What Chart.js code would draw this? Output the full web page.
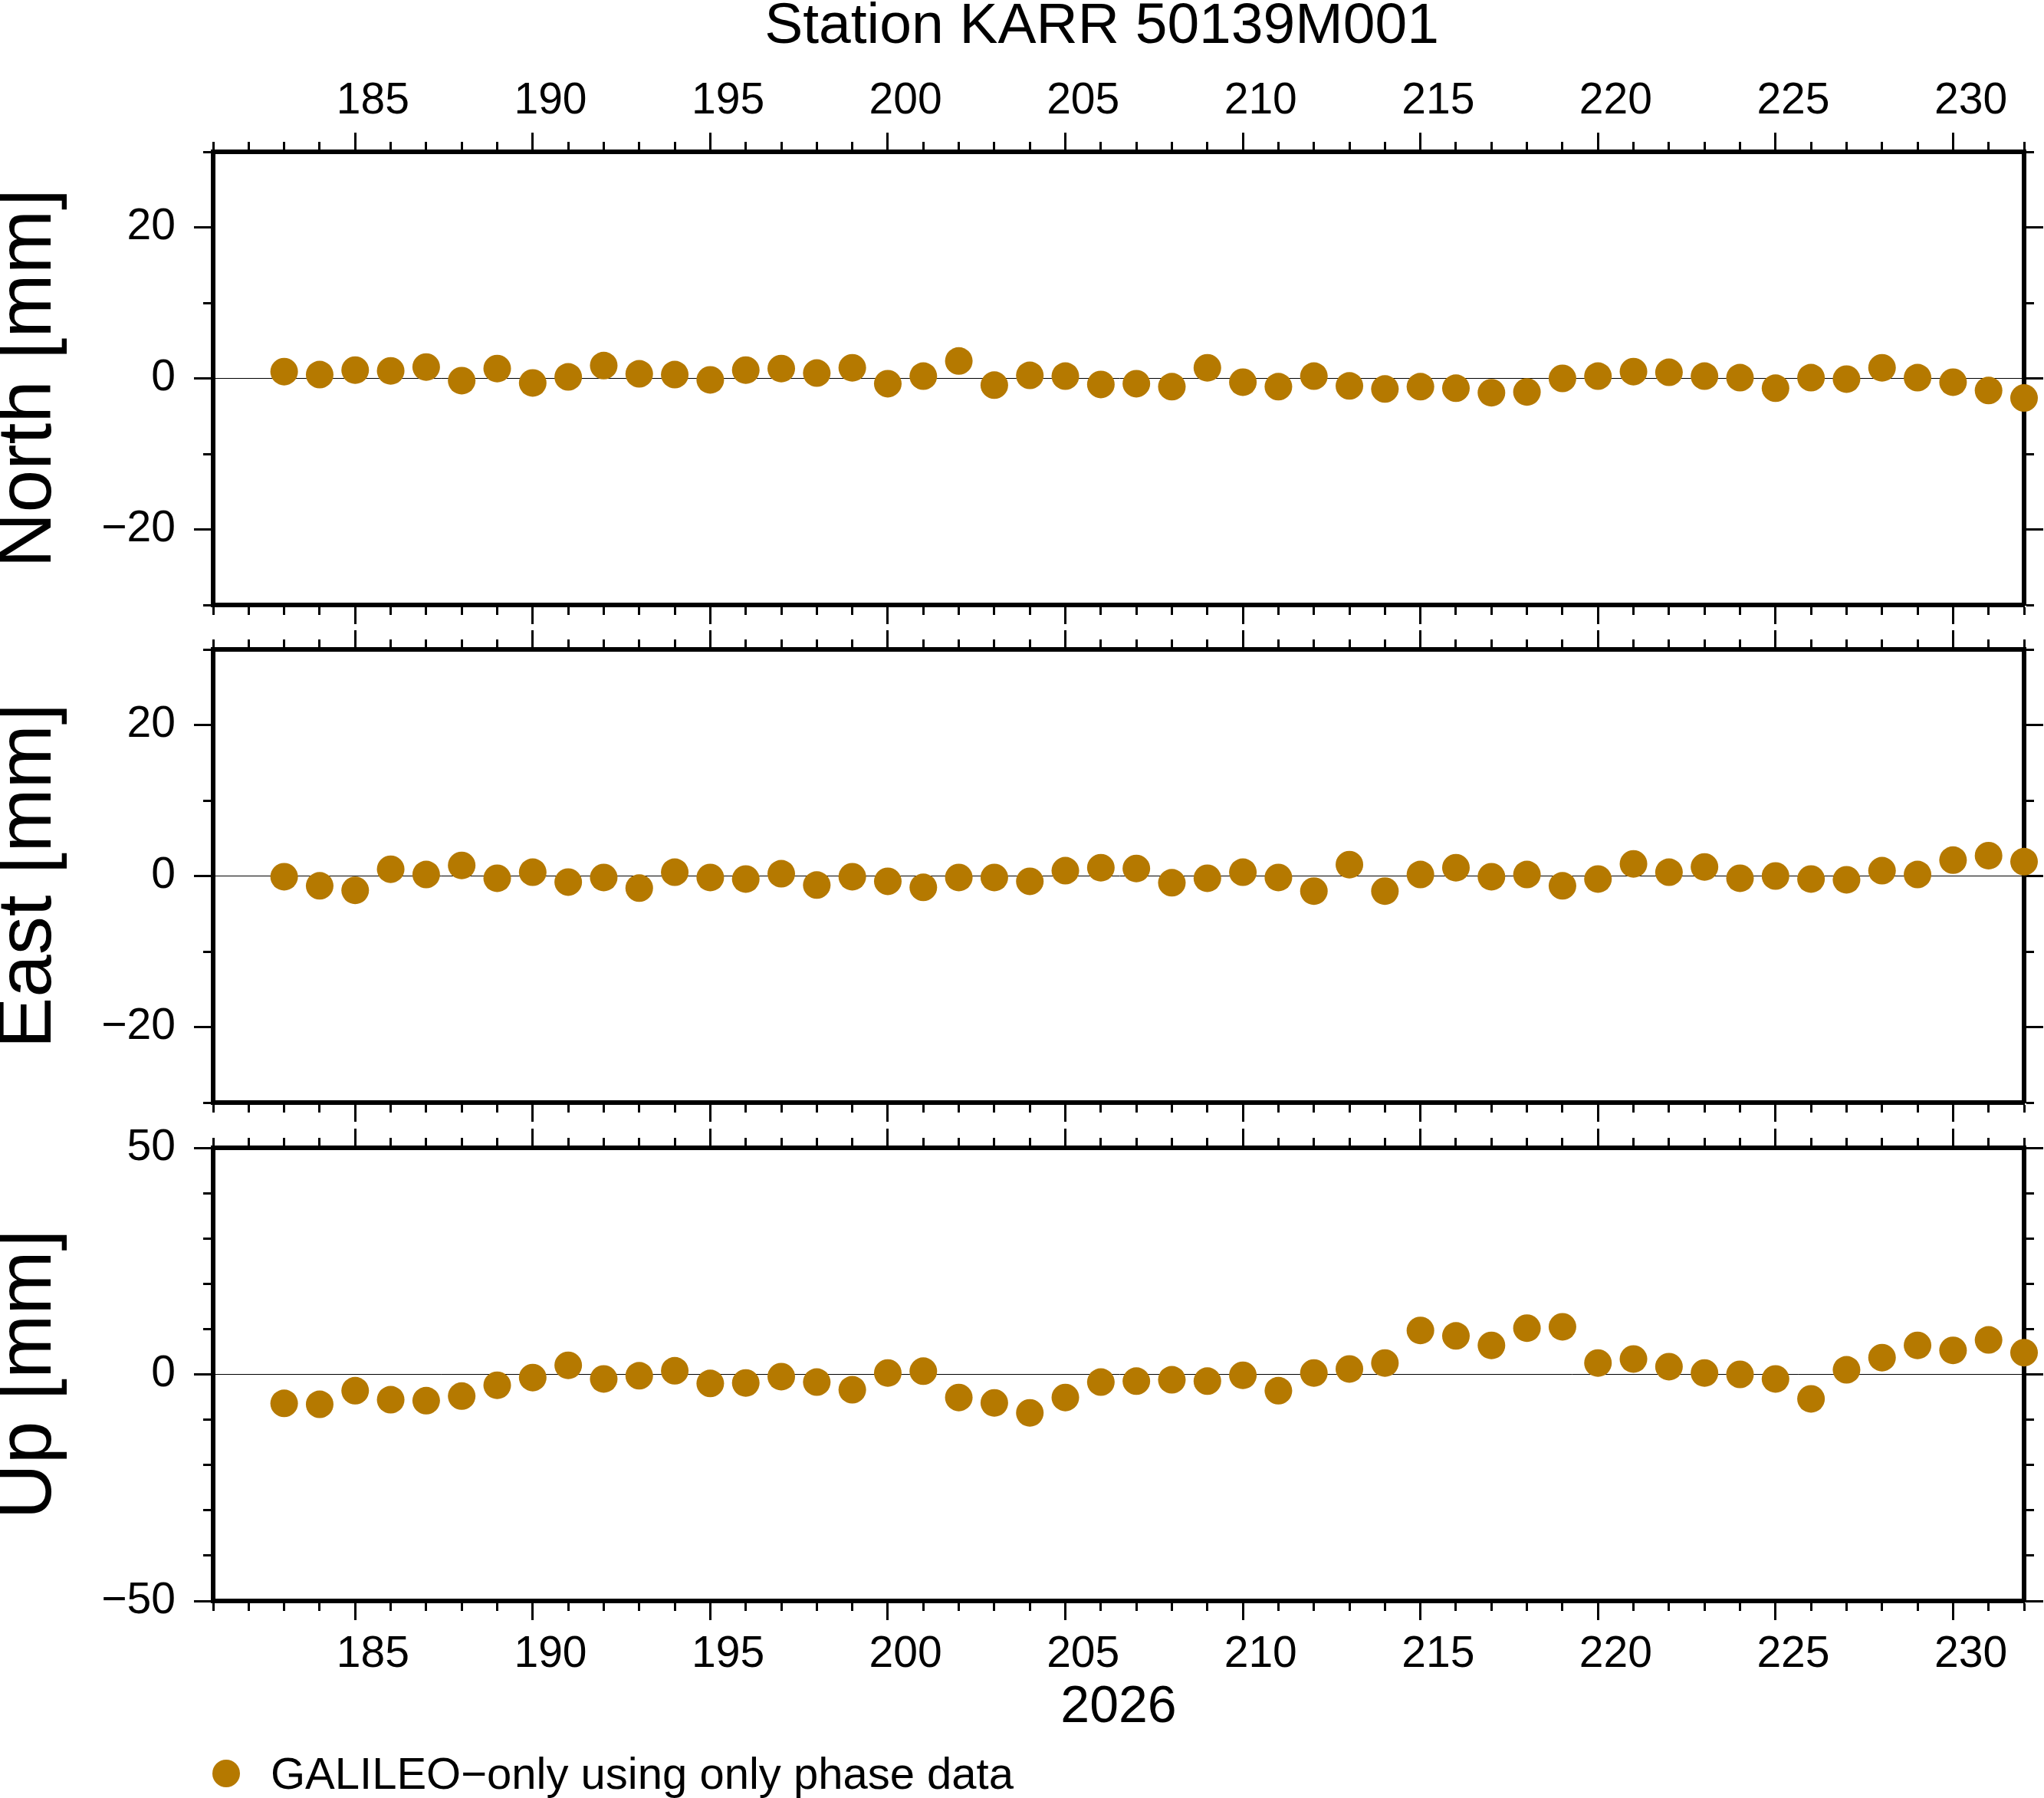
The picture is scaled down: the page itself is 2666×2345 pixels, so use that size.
<!DOCTYPE html>
<html>
<head>
<meta charset="utf-8">
<title>Station KARR 50139M001</title>
<script src="https://cdn.jsdelivr.net/npm/chart.js@4/dist/chart.umd.min.js"></script>
<style>
  html, body { margin: 0; padding: 0; background: #fff; }
  body { position: relative; width: 2666px; height: 2345px; overflow: hidden; font-family: 'Liberation Sans', Arial, sans-serif; color: #000; }
  canvas { position: absolute; left: 0; }
  #title { position: absolute; left: 1437px; top: 30px; transform: translate(-50%, -50%); font-size: 75px; line-height: 1; white-space: nowrap; }
  #legend { position: absolute; left: 277px; top: 2313px; transform: translateY(-50%); display: flex; align-items: center; font-size: 58px; line-height: 1; white-space: nowrap; }
  #legend .dot { width: 36px; height: 36px; border-radius: 50%; margin-right: 40px; }
</style>
</head>
<body>
<div id="title">Station KARR 50139M001</div>
<canvas id="grafikNorth" width="2666" height="818" style="top:0"></canvas>
<canvas id="grafikEast" width="2666" height="649" style="top:818px"></canvas>
<canvas id="grafikUp" width="2666" height="878" style="top:1467px"></canvas>
<div id="legend"><span class="dot"></span><span id="legendText"></span></div>
<script>
// day of year 2026
const days = [183, 184, 185, 186, 187, 188, 189, 190, 191, 192,
              193, 194, 195, 196, 197, 198, 199, 200, 201, 202,
              203, 204, 205, 206, 207, 208, 209, 210, 211, 212,
              213, 214, 215, 216, 217, 218, 219, 220, 221, 222,
              223, 224, 225, 226, 227, 228, 229, 230, 231, 232];

// residuals in mm
const north = [0.9, 0.5, 1.1, 1.0, 1.5, -0.3, 1.3, -0.6, 0.2, 1.7,
               0.6, 0.5, -0.2, 1.1, 1.3, 0.7, 1.4, -0.7, 0.3, 2.3,
               -0.9, 0.4, 0.3, -0.8, -0.7, -1.1, 1.4, -0.5, -1.1, 0.3,
               -1.0, -1.4, -1.1, -1.3, -1.9, -1.8, 0.0, 0.3, 0.9, 0.8,
               0.3, 0.1, -1.3, 0.1, -0.1, 1.4, 0.1, -0.5, -1.6, -2.6];
const east = [-0.1, -1.3, -1.9, 0.9, 0.2, 1.4, -0.3, 0.5, -0.8, -0.2,
              -1.6, 0.5, -0.2, -0.4, 0.3, -1.2, -0.1, -0.7, -1.5, -0.2,
              -0.2, -0.7, 0.7, 1.1, 1.0, -0.9, -0.3, 0.5, -0.2, -2.0,
              1.5, -2.0, 0.2, 1.1, -0.1, 0.2, -1.3, -0.4, 1.6, 0.5,
              1.2, -0.3, 0.0, -0.4, -0.5, 0.7, 0.2, 2.1, 2.7, 1.9];
const up = [-6.4, -6.6, -3.6, -5.6, -5.8, -4.8, -2.4, -0.7, 2.0, -1.0,
            -0.3, 0.8, -2.0, -1.9, -0.5, -1.7, -3.4, 0.3, 0.7, -5.1,
            -6.3, -8.5, -5.1, -1.7, -1.5, -1.2, -1.5, -0.2, -3.6, 0.3,
            1.2, 2.5, 9.7, 8.5, 6.4, 10.2, 10.5, 2.5, 3.4, 1.7,
            0.3, 0.0, -1.0, -5.4, 1.0, 3.7, 6.4, 5.3, 7.6, 4.8];

// ticks
const dayLabels = [185, 190, 195, 200, 205, 210, 215, 220, 225, 230];
const neRange = [-30, 30];
const neTicks = [-20, 0, 20];
const neMinor = [-30, -20, -10, 0, 10, 20, 30];
const upRange = [-50, 50];
const upTicks = [-50, 0, 50];
const upMinor = [-50, -40, -30, -20, -10, 0, 10, 20, 30, 40, 50];

const seriesLabel = 'GALILEO\u2212only using only phase data';
const dotColor = '#b57900';

// frame of the plots, page pixels
const pageW = 2666;
const plotLeft = 278;
const plotRight = 2640;
const xMin = 181;
const xMax = 232;
const halfDay = (plotRight - plotLeft) / (xMax - xMin) / 2; // labels sit in the middle of the day

const minorDays = [];
for (let d = xMin; d <= xMax; d++) minorDays.push(d);

Chart.defaults.font.family = "'Liberation Sans', Arial, sans-serif";
Chart.defaults.color = '#000';

function setTicks(values) {
    return scale => { scale.ticks = values.map(v => ({ value: v })); };
}

function fixSize(size) {
    return scale => {
        if (scale.isHorizontal()) scale.height = size;
        else scale.width = size;
        scale.paddingTop = scale.paddingBottom = scale.paddingLeft = scale.paddingRight = 0;
    };
}

function minusLabel(v) {
    return v < 0 ? '\u2212' + Math.abs(v) : String(v);
}

// inner axes draw the frame and short ticks, outer axes the long ticks and labels
function axisX(position, ticks, length, size, frame, labels, title) {
    return {
        type: 'linear', position: position, min: xMin, max: xMax,
        afterBuildTicks: setTicks(ticks),
        afterFit: fixSize(size),
        grid: { drawOnChartArea: false, tickLength: length, tickWidth: 3, tickColor: '#000' },
        border: { display: frame, width: 6, color: '#000' },
        ticks: {
            display: !!labels, font: { size: 57 }, color: '#000',
            padding: position === 'top' ? 7 : 11, labelOffset: halfDay,
            autoSkip: false, maxRotation: 0, callback: v => String(v)
        },
        title: title
            ? { display: true, text: title, color: '#000', font: { size: 68 }, padding: { top: 0, bottom: 77 } }
            : { display: false }
    };
}

function axisY(position, range, ticks, length, size, frame, labels, title) {
    return {
        type: 'linear', position: position, min: range[0], max: range[1],
        afterBuildTicks: setTicks(ticks),
        afterFit: fixSize(size),
        grid: {
            drawOnChartArea: frame && position === 'left',
            color: c => (c.tick && c.tick.value === 0) ? '#000' : 'rgba(0,0,0,0)',
            lineWidth: 1,
            tickLength: length, tickWidth: 3, tickColor: '#000'
        },
        border: { display: frame, width: 6, color: '#000' },
        ticks: { display: !!labels, font: { size: 57 }, color: '#000', padding: 24, callback: minusLabel },
        title: title
            ? { display: true, text: title, color: '#000', font: { size: 100, lineHeight: 0.76 }, padding: 0 }
            : { display: false }
    };
}

function buatPanel(id, values, range, ticks, minor, yTitle, top, bottom, topLabels, bottomLabels, xTitle) {
    new Chart(document.getElementById(id), {
        type: 'scatter',
        data: {
            datasets: [{
                label: seriesLabel,
                data: days.map((d, i) => ({ x: d, y: values[i] })),
                backgroundColor: dotColor,
                borderWidth: 0,
                pointRadius: 18,
                pointHoverRadius: 18,
                clip: false
            }]
        },
        options: {
            responsive: false,
            animation: false,
            events: [],
            layout: { padding: 0 },
            plugins: { legend: { display: false }, tooltip: { enabled: false } },
            scales: {
                x: axisX('bottom', minorDays, 13, 0, true),
                xt: axisX('top', minorDays, 13, 0, true),
                y: axisY('left', range, minor, 13, 0, true),
                yr: axisY('right', range, minor, 13, 0, true),
                xb5: axisX('bottom', dayLabels, 25, bottom, false, bottomLabels, xTitle),
                xt5: axisX('top', dayLabels, 25, top, false, topLabels),
                y5: axisY('left', range, ticks, 25, plotLeft, false, true, yTitle),
                yr5: axisY('right', range, ticks, 25, pageW - plotRight, false)
            }
        }
    });
}

buatPanel('grafikNorth', north, neRange, neTicks, neMinor, 'North [mm]', 198, 29, true, false);
buatPanel('grafikEast', east, neRange, neTicks, neMinor, 'East [mm]', 29, 29, false, false);
buatPanel('grafikUp', up, upRange, upTicks, upMinor, 'Up [mm]', 30, 257, false, true, '2026');

document.querySelector('#legend .dot').style.background = dotColor;
document.getElementById('legendText').textContent = seriesLabel;
</script>
</body>
</html>
